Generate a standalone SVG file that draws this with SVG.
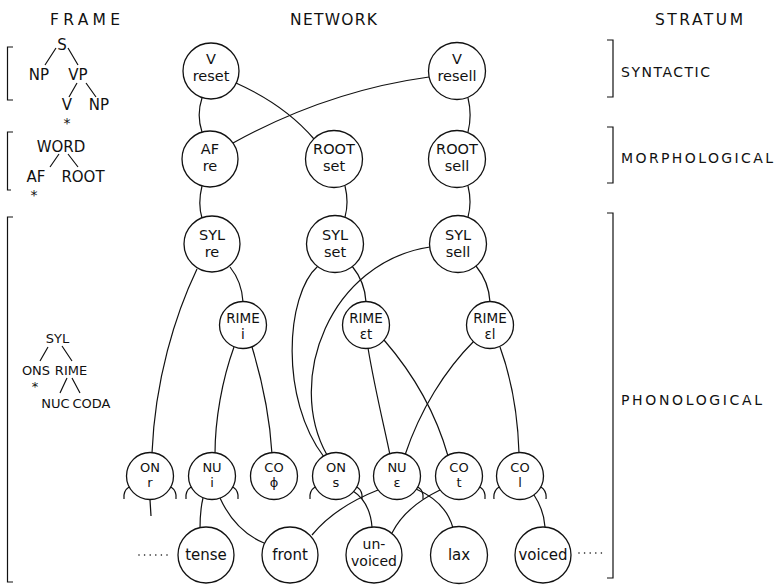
<svg xmlns="http://www.w3.org/2000/svg" width="774" height="585" viewBox="0 0 774 585">
<style>
.n{fill:#fff;stroke:#111;stroke-width:1.3}
.c{fill:none;stroke:#111;stroke-width:1.2}
.h{fill:none;stroke:#111;stroke-width:1.2}
.br{fill:none;stroke:#111;stroke-width:1.2}
.dot{fill:none;stroke:#111;stroke-width:1.6;stroke-dasharray:0 5.6;stroke-linecap:round}
text{font-family:"DejaVu Sans","Liberation Sans",sans-serif;fill:#111;text-anchor:middle}
.big{font-size:14.5px}
.mid{font-size:13.5px}
.sm{font-size:13px}
.ft{font-size:15px}
.uv{font-size:14px}
.fr{font-size:15px}
.fp{font-size:13px}
.st{font-size:14px}
.st2{font-size:13px}
.hd{font-size:15.5px;text-anchor:start}
.sl{font-size:14px;text-anchor:start}
</style>
<rect width="774" height="585" fill="#fff"/>

<g id="headers">
<text class="hd" x="50" y="25" textLength="70" lengthAdjust="spacing">FRAME</text>
<text class="hd" x="290" y="25" textLength="87" lengthAdjust="spacing">NETWORK</text>
<text class="hd" x="655" y="25" textLength="88" lengthAdjust="spacing">STRATUM</text>
</g>

<g id="brackets">
<path class="br" d="M13,47 H7.5 V100 H13"/>
<path class="br" d="M13,132 H7.5 V190 H11"/>
<path class="br" d="M13,217 H7.5 V582 H13"/>
<path class="br" d="M607,40 H613 V97 H607"/>
<path class="br" d="M607,127 H613 V183 H607"/>
<path class="br" d="M607,213 H613 V578 H607"/>
</g>

<g id="strata">
<text class="sl" x="621" y="77" textLength="89" lengthAdjust="spacing">SYNTACTIC</text>
<text class="sl" x="621" y="163" textLength="152" lengthAdjust="spacing">MORPHOLOGICAL</text>
<text class="sl" x="621" y="405" textLength="141" lengthAdjust="spacing">PHONOLOGICAL</text>
</g>

<g id="frame-syntactic">
<text class="fr" x="62" y="50">S</text>
<text class="fr" x="39" y="80">NP</text>
<text class="fr" x="78" y="80">VP</text>
<text class="fr" x="67" y="110">V</text>
<text class="fr" x="99" y="110">NP</text>
<text class="st" x="67" y="128">*</text>
<path class="c" d="M56,48 L45,65 M68,48 L78,65 M77,83 L69,97 M86,83 L96,97"/>
</g>
<g id="frame-morphological">
<text class="fr" x="61" y="152">WORD</text>
<text class="fr" x="36" y="182">AF</text>
<text class="fr" x="83" y="182">ROOT</text>
<text class="st" x="34" y="200">*</text>
<path class="c" d="M59,154 L50,167 M68,154 L78,167"/>
</g>
<g id="frame-phonological">
<text class="fp" x="57.5" y="343">SYL</text>
<text class="fp" x="36" y="375">ONS</text>
<text class="fp" x="71" y="375">RIME</text>
<text class="st2" x="35" y="390.5">*</text>
<text class="fp" x="55.5" y="408">NUC</text>
<text class="fp" x="91.5" y="408">CODA</text>
<path class="c" d="M48,347 L40,361 M62,346 L72,361 M67,378 L60,393 M72,378 L80,393"/>
</g>

<g id="connectors">
<path class="c" d="M202,98 C198,110 198,120 202,132"/>
<path class="c" d="M236,83 Q285,105 314,139"/>
<path class="c" d="M233,143 Q327,91 429,77"/>
<path class="c" d="M468,98 C471,110 471,120 468,132"/>
<path class="c" d="M202,186 C199,198 199,208 202,218"/>
<path class="c" d="M345,186 C348,198 348,206 345,217"/>
<path class="c" d="M468,186 C471,198 471,206 468,217"/>
<path class="c" d="M197,269 C175,315 155,380 152,453"/>
<path class="c" d="M230,267 Q242,282 243,302"/>
<path class="c" d="M318,266 C285,295 280,400 324,457"/>
<path class="c" d="M430,247 C330,262 285,380 327,455"/>
<path class="c" d="M352,266 Q365,282 366,302"/>
<path class="c" d="M476,266 Q489,282 490,302"/>
<path class="c" d="M234,347 C222,380 215,420 215,454"/>
<path class="c" d="M252,347 C262,380 270,420 272,454"/>
<path class="c" d="M368,348 C375,390 385,430 390,455"/>
<path class="c" d="M384,340 C410,370 435,410 448,456"/>
<path class="c" d="M474,341 C445,370 420,410 405,455"/>
<path class="c" d="M500,347 C512,380 518,420 519,453"/>
<path class="c" d="M150,500 L151,516"/>
<path class="c" d="M203,498 C200,510 200,520 200,529"/>
<path class="c" d="M220,498 C230,520 245,535 264,543"/>
<path class="c" d="M378,490 Q335,507 312,535"/>
<path class="c" d="M353,491 Q370,502 372,527"/>
<path class="c" d="M440,490 Q405,507 392,533"/>
<path class="c" d="M416,489 Q446,502 453,528"/>
<path class="c" d="M534,495 Q544,510 545,527"/>
<path class="dot" d="M139,555 H167"/>
<path class="dot" d="M579,553 H606"/>
</g>

<g id="n-v-reset"><circle class="n" cx="211" cy="71" r="28"/><text class="big" x="211" y="64">V<tspan x="211" dy="17">reset</tspan></text></g>
<g id="n-v-resell"><circle class="n" cx="457" cy="71" r="28.5"/><text class="big" x="457" y="64">V<tspan x="457" dy="17">resell</tspan></text></g>
<g id="n-af-re"><circle class="n" cx="210" cy="159" r="28"/><text class="big" x="210" y="154">AF<tspan x="210" dy="17">re</tspan></text></g>
<g id="n-root-set"><circle class="n" cx="334" cy="159" r="28.5"/><text class="big" x="334" y="154">ROOT<tspan x="334" dy="17">set</tspan></text></g>
<g id="n-root-sell"><circle class="n" cx="457" cy="159" r="28.5"/><text class="big" x="457" y="154">ROOT<tspan x="457" dy="17">sell</tspan></text></g>
<g id="n-syl-re"><circle class="n" cx="212" cy="244" r="28"/><text class="big" x="212" y="240">SYL<tspan x="212" dy="17">re</tspan></text></g>
<g id="n-syl-set"><circle class="n" cx="335" cy="244" r="28.5"/><text class="big" x="335" y="240">SYL<tspan x="335" dy="17">set</tspan></text></g>
<g id="n-syl-sell"><circle class="n" cx="458" cy="244" r="28.5"/><text class="big" x="458" y="240">SYL<tspan x="458" dy="17">sell</tspan></text></g>
<g id="n-rime-i"><circle class="n" cx="243" cy="325" r="23.5"/><text class="mid" x="243" y="323">RIME<tspan x="243" dy="16">i</tspan></text></g>
<g id="n-rime-et"><circle class="n" cx="366" cy="325" r="23.5"/><text class="mid" x="366" y="323">RIME<tspan x="366" dy="16">εt</tspan></text></g>
<g id="n-rime-el"><circle class="n" cx="490" cy="325" r="23.5"/><text class="mid" x="490" y="323">RIME<tspan x="490" dy="16">εl</tspan></text></g>

<g id="n-on-r"><circle class="n" cx="150" cy="476" r="23.5"/><path class="h" d="M129,487 Q123,491 124,499 M171,487 Q177,491 176,499"/><text class="sm" x="150" y="472">ON<tspan x="150" dy="15.2">r</tspan></text></g>
<g id="n-nu-i"><circle class="n" cx="212" cy="476" r="23.5"/><path class="h" d="M191,487 Q185,491 186,499 M233,487 Q239,491 238,499"/><text class="sm" x="212" y="472">NU<tspan x="212" dy="15.2">i</tspan></text></g>
<g id="n-co-phi"><circle class="n" cx="274" cy="476" r="23.5"/><text class="sm" x="274" y="472">CO<tspan x="274" dy="15.2">ϕ</tspan></text></g>
<g id="n-on-s"><circle class="n" cx="336" cy="476" r="23.5"/><path class="h" d="M315,487 Q309,491 310,499 M357,487 Q363,491 362,499"/><text class="sm" x="336" y="472">ON<tspan x="336" dy="15.2">s</tspan></text></g>
<g id="n-nu-e"><circle class="n" cx="397" cy="476" r="23.5"/><path class="h" d="M418,487 Q424,491 423,499"/><text class="sm" x="397" y="472">NU<tspan x="397" dy="15.2">ε</tspan></text></g>
<g id="n-co-t"><circle class="n" cx="459" cy="476" r="23.5"/><path class="h" d="M480,487 Q486,491 485,499"/><text class="sm" x="459" y="472">CO<tspan x="459" dy="15.2">t</tspan></text></g>
<g id="n-co-l"><circle class="n" cx="520" cy="476" r="23.5"/><path class="h" d="M499,487 Q493,491 494,499 M541,487 Q547,491 546,499"/><text class="sm" x="520" y="472">CO<tspan x="520" dy="15.2">l</tspan></text></g>

<g id="n-tense"><circle class="n" cx="206" cy="555" r="28"/><text class="ft" x="206" y="560">tense</text></g>
<g id="n-front"><circle class="n" cx="290" cy="555" r="28"/><text class="ft" x="290" y="560">front</text></g>
<g id="n-unvoiced"><circle class="n" cx="374" cy="555" r="28"/><text class="uv" x="374" y="549">un-<tspan x="374" dy="16.5">voiced</tspan></text></g>
<g id="n-lax"><circle class="n" cx="459" cy="555" r="28.5"/><text class="ft" x="459" y="560">lax</text></g>
<g id="n-voiced"><circle class="n" cx="543" cy="555" r="28"/><text class="ft" x="543" y="560">voiced</text></g>
</svg>
